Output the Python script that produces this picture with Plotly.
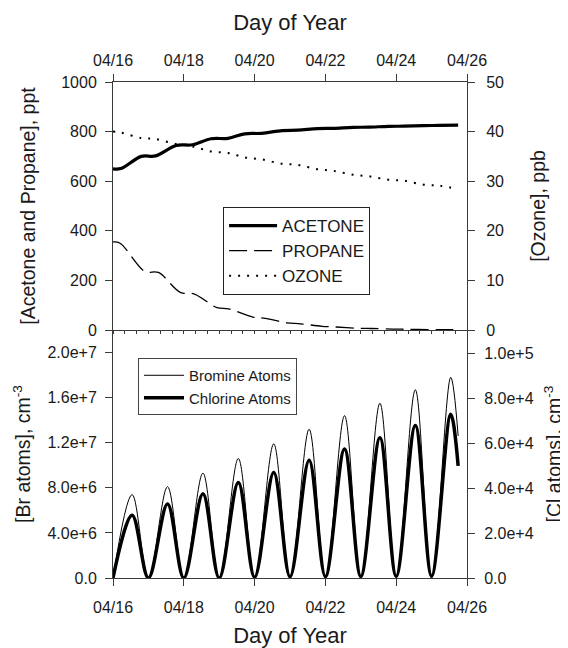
import plotly.graph_objects as go

# ---------------- data: top panel (day offset from 04/16 00:00) ----------------
acetone_days = [0, 0.22, 0.8, 1.2, 1.78, 2.25, 2.77, 3.25, 3.72, 4.2, 4.78,
                5.22, 5.78, 6.22, 6.78, 7.22, 7.78, 8.22, 8.78, 9.22, 9.75]
acetone_ppt = [650, 651, 700, 702, 744, 747, 771, 773, 791, 793, 804,
               806, 812, 813, 817, 818, 821, 822, 824, 825, 826]

propane_days = [0, 0.2, 0.9, 1.28, 1.9, 2.3, 2.94, 3.27, 3.95, 4.3, 4.9,
                5.3, 5.9, 6.3, 6.9, 7.3, 7.9, 8.3, 8.9, 9.3, 9.75]
propane_ppt = [355, 350, 236, 232, 152, 145, 90, 85, 52, 47, 29,
               25, 15, 12, 7, 6, 3.5, 3, 1.8, 1.5, 1]

ozone_days = [0, 0.22, 0.8, 1.2, 1.78, 2.25, 2.77, 3.25, 3.72, 4.2, 4.78,
              5.22, 5.78, 6.22, 6.78, 7.22, 7.78, 8.22, 8.78, 9.22, 9.75]
ozone_ppb = [40.0, 39.8, 38.7, 38.5, 37.5, 37.0, 36.0, 35.7, 34.8, 34.4, 33.5,
             33.3, 32.4, 32.1, 31.3, 31.0, 30.3, 30.1, 29.3, 29.1, 28.4]

# ---------------- data: bottom panel ----------------
halogen_days = [0, 0.54, 1, 1.54, 2, 2.54, 3, 3.54, 4, 4.54, 5, 5.54,
                6, 6.54, 7, 7.54, 8, 8.54, 9, 9.54, 9.75]
bromine_atoms = [0, 7.4e6, 0, 8.1e6, 0, 9.3e6, 0, 10.6e6, 0, 11.9e6, 0, 13.2e6,
                 0, 14.4e6, 0, 15.5e6, 0, 16.7e6, 0, 17.8e6, 12.6e6]
chlorine_atoms = [0, 2.8e4, 0, 3.3e4, 0, 3.75e4, 0, 4.25e4, 300, 4.7e4, 500, 5.25e4,
                  600, 5.75e4, 700, 6.25e4, 800, 6.8e4, 900, 7.3e4, 5.0e4]

# ---------------- tick labels ----------------
day_tickvals = [0, 2, 4, 6, 8, 10]
day_ticktext = ["04/16", "04/18", "04/20", "04/22", "04/24", "04/26"]
ppt_tickvals = [0, 200, 400, 600, 800, 1000]
ppt_ticktext = ["0", "200", "400", "600", "800", "1000"]
ppb_tickvals = [0, 10, 20, 30, 40, 50]
ppb_ticktext = ["0", "10", "20", "30", "40", "50"]
br_tickvals = [0, 4e6, 8e6, 1.2e7, 1.6e7, 2.0e7]
br_ticktext = ["0.0", "4.0e+6", "8.0e+6", "1.2e+7", "1.6e+7", "2.0e+7"]
cl_tickvals = [0, 2e4, 4e4, 6e4, 8e4, 1e5]
cl_ticktext = ["0.0", "2.0e+4", "4.0e+4", "6.0e+4", "8.0e+4", "1.0e+5"]

FONT = "Liberation Sans, Arial, sans-serif"
TXT = "#1a1a1a"
LINE = "#3a3a3a"
TICKFONT = dict(family=FONT, size=16, color=TXT)
TITLEFONT = dict(family=FONT, size=19.5, color=TXT)

fig = go.Figure()
fig.add_trace(go.Scatter(x=acetone_days, y=acetone_ppt, name="ACETONE", mode="lines",
                         line=dict(color="black", width=3.2, shape="spline"),
                         xaxis="x2", yaxis="y3", legend="legend"))
fig.add_trace(go.Scatter(x=propane_days, y=propane_ppt, name="PROPANE", mode="lines",
                         line=dict(color="black", width=1.3, dash="18px,7px", shape="spline"),
                         xaxis="x2", yaxis="y3", legend="legend"))
fig.add_trace(go.Scatter(x=ozone_days, y=ozone_ppb, name="OZONE", mode="lines",
                         line=dict(color="black", width=2, dash="2px,7px", shape="spline"),
                         xaxis="x2", yaxis="y4", legend="legend"))
fig.add_trace(go.Scatter(x=[], y=[], xaxis="x3", yaxis="y3", showlegend=False, hoverinfo="skip"))
fig.add_trace(go.Scatter(x=halogen_days, y=bromine_atoms, name="Bromine Atoms", mode="lines",
                         line=dict(color="black", width=1, shape="spline"),
                         xaxis="x", yaxis="y", legend="legend2"))
fig.add_trace(go.Scatter(x=halogen_days, y=chlorine_atoms, name="Chlorine Atoms", mode="lines",
                         line=dict(color="black", width=3.5, shape="spline"),
                         xaxis="x", yaxis="y2", legend="legend2"))

axis_base = dict(showgrid=False, zeroline=False, showline=True, linecolor=LINE, linewidth=1,
                 ticks="outside", ticklen=7, tickcolor=LINE, tickwidth=1, tickfont=TICKFONT,
                 automargin=False)

# the page body adds an 8px offset, so the figure is 8px smaller and its
# top/left margins 8px narrower; the plot area lands at x 113-467, y 82-578
fig.update_layout(
    width=560, height=640,
    margin=dict(l=105, r=101, t=74, b=70),
    paper_bgcolor="white", plot_bgcolor="white",
    font=dict(family=FONT, color=TXT),
    xaxis=dict(**axis_base, anchor="y", domain=[0, 1], range=[0, 10],
               tickvals=day_tickvals, ticktext=day_ticktext, ticklabelstandoff=8,
               title=dict(text="Day of Year", font=dict(family=FONT, size=22, color=TXT), standoff=12)),
    xaxis2=dict(**axis_base, anchor="y3", side="top", domain=[0, 1], range=[0, 10],
                tickvals=day_tickvals, ticktext=day_ticktext, ticklabelstandoff=2,
                title=dict(text="Day of Year", font=dict(family=FONT, size=22, color=TXT), standoff=14)),
    xaxis3=dict(anchor="y3", overlaying="x2", side="bottom", range=[0, 10],
                showgrid=False, zeroline=False, showline=True, linecolor=LINE, linewidth=1,
                ticks="outside", ticklen=3, tickcolor=LINE, tick0=0, dtick=1 / 3,
                showticklabels=False, automargin=False),
    yaxis=dict(**axis_base, anchor="x", domain=[0, 0.5], range=[0, 2.2e7],
               tickvals=br_tickvals, ticktext=br_ticktext, ticklabelstandoff=5,
               title=dict(text="[Br atoms], cm<sup>-3</sup>", font=TITLEFONT, standoff=11)),
    yaxis2=dict(**axis_base, anchor="x", overlaying="y", side="right", range=[0, 1.105e5],
                tickvals=cl_tickvals, ticktext=cl_ticktext, ticklabelstandoff=6,
                title=dict(text="[Cl atoms], cm<sup>-3</sup>", font=TITLEFONT, standoff=14)),
    yaxis3=dict(**axis_base, anchor="x2", domain=[0.5, 1], range=[0, 1000],
                tickvals=ppt_tickvals, ticktext=ppt_ticktext, ticklabelstandoff=5,
                title=dict(text="[Acetone and Propane], ppt", font=TITLEFONT, standoff=20)),
    yaxis4=dict(**axis_base, anchor="x2", overlaying="y3", side="right", range=[0, 50],
                tickvals=ppb_tickvals, ticktext=ppb_ticktext, ticklabelstandoff=8,
                title=dict(text="[Ozone], ppb", font=TITLEFONT, standoff=28)),
    legend=dict(x=0.311, y=0.748, xanchor="left", yanchor="top",
                bgcolor="white", bordercolor="#222", borderwidth=1,
                font=dict(family=FONT, size=17, color=TXT), itemwidth=48,
                tracegroupgap=0),
    legend2=dict(x=0.0706, y=0.4435, xanchor="left", yanchor="top",
                 bgcolor="white", bordercolor="#444", borderwidth=1,
                 font=dict(family=FONT, size=15, color=TXT), itemwidth=40,
                 tracegroupgap=0),
    showlegend=True,
)

fig.write_html("out.html")
